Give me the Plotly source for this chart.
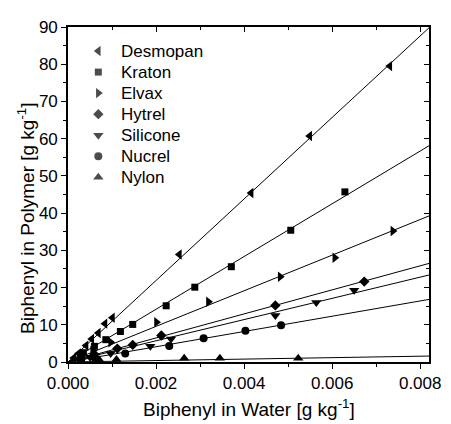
import plotly.graph_objects as go

# ---- data ----
series_names = ["Desmopan", "Kraton", "Elvax", "Hytrel", "Silicone", "Nucrel", "Nylon"]
symbols = ["triangle-left", "square", "triangle-right", "diamond", "triangle-down", "circle", "triangle-up"]

desmopan_x = [0.00013, 0.00024, 0.00041, 0.00054, 0.00069, 0.00084, 0.00101, 0.00253, 0.00416, 0.00549, 0.00731]
desmopan_y = [1.1, 2.3, 4.4, 6.2, 7.8, 10.3, 11.9, 28.9, 45.4, 60.7, 79.5]

kraton_x = [0.00035, 0.00060, 0.00086, 0.00119, 0.00147, 0.00223, 0.00288, 0.00371, 0.00506, 0.00629]
kraton_y = [2.5, 4.2, 6.0, 8.2, 10.1, 15.1, 20.1, 25.6, 35.4, 45.7]

elvax_x = [0.00030, 0.00056, 0.00097, 0.00201, 0.00319, 0.00482, 0.00606, 0.00738]
elvax_y = [1.4, 3.0, 5.3, 10.7, 16.2, 22.9, 28.0, 35.2]

hytrel_x = [0.00030, 0.00060, 0.00112, 0.00147, 0.00212, 0.00471, 0.00673]
hytrel_y = [1.0, 2.0, 3.6, 4.6, 7.1, 15.2, 21.6]

silicone_x = [0.00025, 0.00050, 0.00097, 0.00187, 0.00234, 0.00471, 0.00564, 0.00650]
silicone_y = [0.7, 1.3, 2.3, 4.2, 6.2, 12.5, 16.0, 19.3]

nucrel_x = [0.00030, 0.00060, 0.00130, 0.00230, 0.00308, 0.00403, 0.00484]
nucrel_y = [0.6, 1.2, 2.3, 4.3, 6.4, 8.4, 9.9]

nylon_x = [0.00030, 0.00071, 0.00110, 0.00264, 0.00345, 0.00523]
nylon_y = [0.3, 0.6, 0.7, 1.0, 1.0, 1.0]

# fitted partition slopes (g/kg polymer per g/kg water)
fit_slopes = [10950, 7085, 4785, 3230, 2850, 2050, 195]

x_range = [0, 0.0082]
y_range = [0, 90]
x_ticks = [0.000, 0.002, 0.004, 0.006, 0.008]
y_ticks = [0, 10, 20, 30, 40, 50, 60, 70, 80, 90]

xs = [desmopan_x, kraton_x, elvax_x, hytrel_x, silicone_x, nucrel_x, nylon_x]
ys = [desmopan_y, kraton_y, elvax_y, hytrel_y, silicone_y, nucrel_y, nylon_y]
sizes = [9, 7, 9, 8, 9, 8, 9]

FONT = "Liberation Sans, Arial, sans-serif"

# page is offset by the body's 8px margin
W, H = 443, 416
ML, MR, MT, MB = 60, 14, 10, 62
PW, PH = W - ML - MR, H - MT - MB

fig = go.Figure()

# fitted lines
for name, k in zip(series_names, fit_slopes):
    fig.add_trace(go.Scatter(
        x=[0, x_range[1]], y=[0, k * x_range[1]], mode="lines",
        line=dict(color="black", width=1), showlegend=False, hoverinfo="skip"))

# markers
for name, sym, x, y, s in zip(series_names, symbols, xs, ys, sizes):
    fig.add_trace(go.Scatter(
        x=x, y=y, mode="markers", name=name, showlegend=False,
        marker=dict(symbol=sym, size=s, color="black", line=dict(width=0)),
        cliponaxis=False))

# dummy trace to activate mirrored axes
fig.add_trace(go.Scatter(x=[None], y=[None], xaxis="x2", yaxis="y2",
                         showlegend=False, hoverinfo="skip"))

# manual legend (layout in pixel units relative to plot area)
leg_key_x = 31      # px from left of plot area
leg_text_x = 52
leg_top = 24.7      # px from top of plot area for first row
leg_step = 21.6
n = len(series_names)
key_px = [(leg_top + i * leg_step) for i in range(n)]
fig.add_trace(go.Scatter(
    x=[leg_key_x / PW] * n, y=[1 - p / PH for p in key_px],
    xaxis="x3", yaxis="y3", mode="markers", showlegend=False, hoverinfo="skip",
    marker=dict(symbol=symbols, size=sizes, color="black", line=dict(width=0))))

annotations = []
for name, p in zip(series_names, key_px):
    annotations.append(dict(text=name, xref="paper", yref="paper", x=leg_text_x / PW,
                            y=1 - p / PH, xanchor="left", yanchor="middle", showarrow=False,
                            font=dict(family=FONT, size=17, color="black")))

axis_common = dict(showgrid=False, zeroline=False, showline=True, linecolor="black",
                   linewidth=1.6, tickcolor="black", tickwidth=1.2,
                   tickfont=dict(family=FONT, size=17, color="black"))

annotations += [
    dict(text="Biphenyl in Water [g kg<sup>-1</sup>]", xref="paper", yref="paper",
         x=0.5, y=0, yshift=-46, xanchor="center", yanchor="middle", showarrow=False,
         font=dict(family=FONT, size=19, color="black")),
    dict(text="Biphenyl in Polymer [g kg<sup>-1</sup>]", xref="paper", yref="paper",
         x=0, xshift=-42, y=0.43, xanchor="center", yanchor="middle", textangle=-90,
         showarrow=False, font=dict(family=FONT, size=19, color="black")),
]

fig.update_layout(
    width=W, height=H,
    margin=dict(l=ML, r=MR, t=MT, b=MB),
    paper_bgcolor="white", plot_bgcolor="white",
    font=dict(family=FONT, size=17, color="black"),
    showlegend=False,
    xaxis=dict(range=x_range, tickvals=x_ticks, tickformat=".3f", ticks="outside",
               ticklen=5, minor=dict(dtick=0.001, ticklen=3, ticks="outside", tickcolor="black"),
               **axis_common),
    yaxis=dict(range=y_range, tickvals=y_ticks, ticks="outside", ticklen=5,
               minor=dict(dtick=5, ticklen=3, ticks="outside", tickcolor="black"),
               **axis_common),
    xaxis2=dict(range=x_range, overlaying="x", side="top", anchor="y", tickvals=x_ticks,
                ticks="inside", ticklen=5, showticklabels=False,
                minor=dict(dtick=0.001, ticklen=3, ticks="inside", tickcolor="black"),
                **axis_common),
    yaxis2=dict(range=y_range, overlaying="y", side="right", anchor="x", tickvals=y_ticks,
                ticks="inside", ticklen=5, showticklabels=False,
                minor=dict(dtick=5, ticklen=3, ticks="inside", tickcolor="black"),
                **axis_common),
    xaxis3=dict(range=[0, 1], overlaying="x", visible=False, anchor="y3"),
    yaxis3=dict(range=[0, 1], overlaying="y", visible=False, anchor="x3"),
    annotations=annotations,
)

fig.write_html("out.html")
